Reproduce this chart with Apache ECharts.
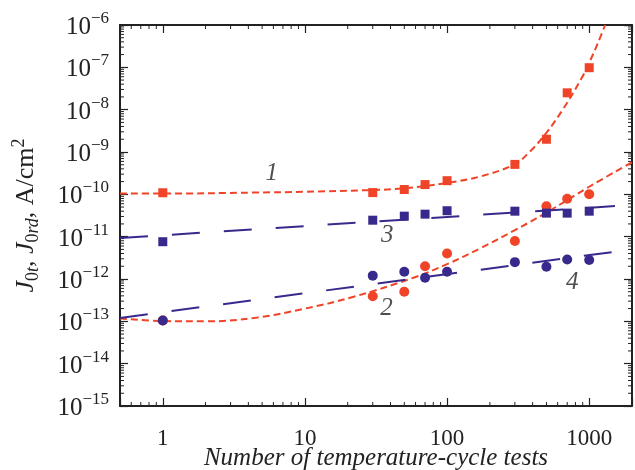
<!DOCTYPE html>
<html><head><meta charset="utf-8">
<script src="https://cdn.jsdelivr.net/npm/echarts@6/dist/echarts.min.js"></script>
<style>html,body{margin:0;padding:0;background:#fff}#c{width:635px;height:470px}</style>
</head><body><div id="c"></div>
<script>
// ---- data ----
const cycles = [1, 30, 50, 70, 100, 300, 500, 700, 1000];
const jRedSquares  = [1.09e-10, 1.1e-10, 1.3e-10, 1.7e-10, 2.1e-10, 5.1e-10, 2.0e-9, 2.5e-8, 9.8e-8];   // curve 1
const jRedCircles  = [1.05e-13, 3.9e-13, 5.0e-13, 2.0e-12, 4.0e-12, 7.9e-12, 5.2e-11, 7.9e-11, 1.0e-10]; // curve 2
const jBlueSquares = [7.6e-12, 2.45e-11, 3.05e-11, 3.4e-11, 4.1e-11, 4.0e-11, 3.6e-11, 3.6e-11, 4.0e-11]; // curve 3
const jBlueCircles = [1.05e-13, 1.2e-12, 1.48e-12, 1.07e-12, 1.48e-12, 2.5e-12, 1.94e-12, 2.9e-12, 2.8e-12]; // curve 4

const fit1X = [0.5, 1, 4.4, 10, 29, 49, 100, 170, 298, 380, 498, 651, 875, 1000, 1143, 1294];
const fit1Y = [1.05e-10, 1.04e-10, 1.1e-10, 1.15e-10, 1.26e-10, 1.38e-10, 1.86e-10, 2.63e-10, 5.1e-10, 1.0e-9, 2.8e-9, 1.0e-8, 5.2e-8, 1.29e-7, 3.55e-7, 1e-6];
const fit2X = [0.5, 1, 2, 4.4, 10, 22, 58, 100, 170, 298, 500, 1000, 2000];
const fit2Y = [1.17e-13, 1.02e-13, 1.0e-13, 1.2e-13, 2.0e-13, 3.8e-13, 1.07e-12, 2.24e-12, 5.25e-12, 1.41e-11, 3.7e-11, 1.51e-10, 5.75e-10];
const fit3X = [0.5, 2000];
const fit3Y = [9.3e-12, 5.6e-11];
const fit4X = [0.5, 2000];
const fit4Y = [1.2e-13, 5.0e-12];

const curveLabelText = ['1', '3', '2', '4'];
const curveLabelX = [5.85, 37.9, 37.5, 760];
const curveLabelY = [3.1e-10, 1.08e-11, 2.04e-13, 8.5e-13];

const xMin = 0.5, xMax = 2000, yMin = 1e-15, yMax = 1e-6;
const minorMultipliers = [2, 3, 4, 5, 6, 7, 8, 9];
const xDecades = [0.1, 1, 10, 100, 1000];
const yDecades = [1e-15, 1e-14, 1e-13, 1e-12, 1e-11, 1e-10, 1e-9, 1e-8, 1e-7];

// ---- build ----
const RED = '#f04428', BLUE = '#372a8c';
const FONT = "'Liberation Serif', 'Times New Roman', serif";
const zip = (xs, ys) => xs.map((x, i) => [x, ys[i]]);
const xMinor = [];
xDecades.forEach(d => minorMultipliers.forEach(m => { const v = +(d * m).toPrecision(6); if (v > xMin && v < xMax) xMinor.push(v); }));
const yMinor = [];
yDecades.forEach(d => minorMultipliers.forEach(m => { yMinor.push(+(d * m).toPrecision(6)); }));

function tickRenderer(dir) {
  return function (params, api) {
    const L = 4;
    const style = { stroke: '#222', lineWidth: 1 };
    if (dir === 'x') {
      const v = api.value(0);
      const b = api.coord([v, yMin]), t = api.coord([v, yMax]);
      return { type: 'group', children: [
        { type: 'line', shape: { x1: b[0], y1: b[1], x2: b[0], y2: b[1] - L }, style },
        { type: 'line', shape: { x1: t[0], y1: t[1], x2: t[0], y2: t[1] + L }, style }
      ]};
    } else {
      const v = api.value(1);
      const l = api.coord([xMin, v]), r = api.coord([xMax, v]);
      return { type: 'group', children: [
        { type: 'line', shape: { x1: l[0], y1: l[1], x2: l[0] + L, y2: l[1] }, style },
        { type: 'line', shape: { x1: r[0], y1: r[1], x2: r[0] - L, y2: r[1] }, style }
      ]};
    }
  };
}

function isDecade(v) { const l = Math.log10(v); return Math.abs(l - Math.round(l)) < 1e-6; }

const axisLineStyle = { color: '#222', width: 2 };
const chart = echarts.init(document.getElementById('c'), null, { renderer: 'canvas' });
chart.setOption({
  animation: false,
  backgroundColor: '#fff',
  grid: { left: 120, right: 3, top: 25, bottom: 64, containLabel: false, outerBoundsMode: 'none' },
  xAxis: [{
    type: 'log', min: xMin, max: xMax, splitNumber: 4, position: 'bottom',
    axisLine: { show: true, lineStyle: axisLineStyle },
    axisTick: { show: true, inside: true, length: 8, lineStyle: { color: '#222', width: 1.2 } },
    splitLine: { show: false },
    axisLabel: {
      margin: 21, color: '#222', fontFamily: FONT, fontSize: 23,
      formatter: v => isDecade(v) ? String(Math.round(v)) : ''
    },
    name: 'Number of temperature-cycle tests', nameLocation: 'middle', nameGap: 40, nameMoveOverlap: false,
    nameTextStyle: { fontFamily: FONT, fontStyle: 'italic', fontSize: 25, color: '#222' }
  }, {
    type: 'log', min: xMin, max: xMax, splitNumber: 4, position: 'top',
    axisLine: { show: true, lineStyle: axisLineStyle },
    axisTick: { show: true, inside: true, length: 8, lineStyle: { color: '#222', width: 1.2 } },
    splitLine: { show: false }, axisLabel: { show: false }
  }],
  yAxis: [{
    type: 'log', min: yMin, max: yMax, splitNumber: 9, position: 'left',
    axisLine: { show: true, lineStyle: axisLineStyle },
    axisTick: { show: true, inside: true, length: 8, lineStyle: { color: '#222', width: 1.2 } },
    splitLine: { show: false },
    axisLabel: {
      margin: 11, color: '#222', fontFamily: FONT,
      formatter: v => {
        const e = Math.round(Math.log10(v));
        return '{b|10}{s|' + (e < 0 ? '\u2212' : '') + Math.abs(e) + '}';
      },
      rich: {
        b: { fontFamily: FONT, fontSize: 25, lineHeight: 30, verticalAlign: 'bottom', color: '#222' },
        s: { fontFamily: FONT, fontSize: 17, lineHeight: 30, verticalAlign: 'top', color: '#222' }
      }
    },
    name: '{i|J}{sb|0}{si|t}{n|, }{i|J}{sb|0}{si|rd}{n|, A/cm}{sp|2}',
    nameLocation: 'middle', nameGap: 78, nameRotate: 90, nameMoveOverlap: false,
    nameTextStyle: {
      color: '#222',
      rich: {
        i: { fontFamily: FONT, fontStyle: 'italic', fontSize: 26, lineHeight: 32, verticalAlign: 'middle', color: '#222' },
        n: { fontFamily: FONT, fontSize: 26, lineHeight: 32, verticalAlign: 'middle', color: '#222' },
        sb: { fontFamily: FONT, fontSize: 18, lineHeight: 32, verticalAlign: 'bottom', color: '#222' },
        si: { fontFamily: FONT, fontStyle: 'italic', fontSize: 18, lineHeight: 32, verticalAlign: 'bottom', color: '#222' },
        sp: { fontFamily: FONT, fontSize: 18, lineHeight: 32, verticalAlign: 'top', color: '#222' }
      }
    }
  }, {
    type: 'log', min: yMin, max: yMax, splitNumber: 9, position: 'right',
    axisLine: { show: true, lineStyle: axisLineStyle },
    axisTick: { show: true, inside: true, length: 8, lineStyle: { color: '#222', width: 1.2 } },
    splitLine: { show: false }, axisLabel: { show: false }
  }],
  series: [
    { type: 'custom', name: 'xminor', silent: true, clip: false, renderItem: tickRenderer('x'),
      data: xMinor.map(v => [v, yMin]), encode: { x: 0, y: 1 }, z: 1 },
    { type: 'custom', name: 'yminor', silent: true, clip: false, renderItem: tickRenderer('y'),
      data: yMinor.map(v => [xMin, v]), encode: { x: 0, y: 1 }, z: 1 },
    { type: 'line', name: 'fit1', data: zip(fit1X, fit1Y), smooth: 0.4, showSymbol: false, silent: true, clip: true,
      lineStyle: { color: RED, width: 2, type: [7, 4] }, z: 2 },
    { type: 'line', name: 'fit2', data: zip(fit2X, fit2Y), smooth: 0.4, showSymbol: false, silent: true, clip: true,
      lineStyle: { color: RED, width: 2, type: [7, 4] }, z: 2 },
    { type: 'line', name: 'fit3', data: zip(fit3X, fit3Y), showSymbol: false, silent: true,
      lineStyle: { color: BLUE, width: 2, type: [28, 24] }, z: 2 },
    { type: 'line', name: 'fit4', data: zip(fit4X, fit4Y), showSymbol: false, silent: true,
      lineStyle: { color: BLUE, width: 2, type: [28, 24] }, z: 2 },
    { type: 'scatter', name: '1', data: zip(cycles, jRedSquares), symbol: 'rect', symbolSize: 9,
      itemStyle: { color: RED, opacity: 1 }, z: 3 },
    { type: 'scatter', name: '2', data: zip(cycles, jRedCircles), symbol: 'circle', symbolSize: 10,
      itemStyle: { color: RED, opacity: 1 }, z: 3 },
    { type: 'scatter', name: '3', data: zip(cycles, jBlueSquares), symbol: 'rect', symbolSize: 9,
      itemStyle: { color: BLUE, opacity: 1 }, z: 4 },
    { type: 'scatter', name: '4', data: zip(cycles, jBlueCircles), symbol: 'circle', symbolSize: 10,
      itemStyle: { color: BLUE, opacity: 1 }, z: 4 },
    { type: 'scatter', name: 'labels', silent: true, symbolSize: 0,
      data: curveLabelX.map((x, i) => ({ value: [x, curveLabelY[i]], name: curveLabelText[i] })),
      label: { show: true, position: 'inside', formatter: p => p.name,
        fontFamily: FONT, fontStyle: 'italic', fontSize: 25, color: '#222' }, z: 5 }
  ]
});
</script>
</body></html>
